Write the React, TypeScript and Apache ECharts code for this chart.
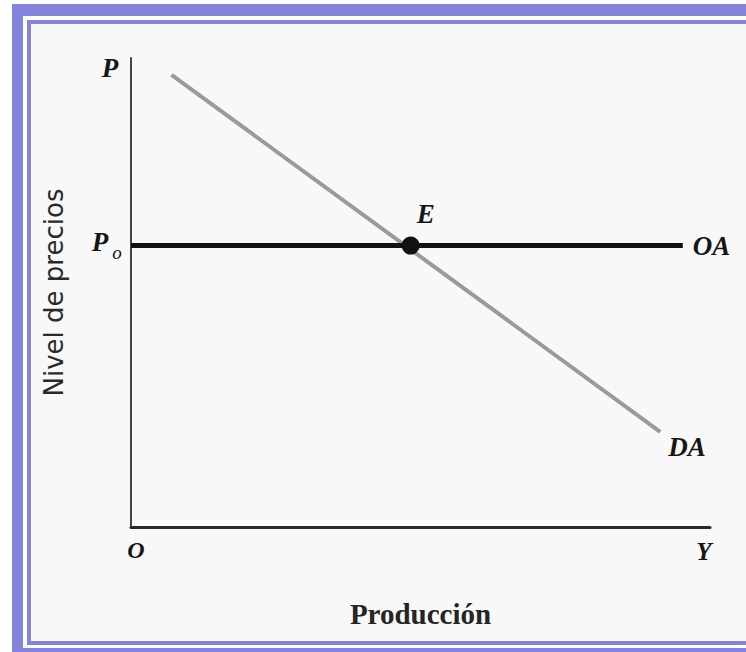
import React, { useEffect, useRef } from "react";
import * as echarts from "echarts";

// Axis ranges (abstract units)
const X_RANGE = [0, 100];
const Y_RANGE = [0, 100];

// Oferta agregada (horizontal at P0)
const OA_X = [0, 95.3];
const OA_Y = [60, 60];

// Demanda agregada (downward sloping)
const DA_X = [7, 91.4];
const DA_Y = [96.4, 20.3];

// Equilibrium point
const E_X = [48.3];
const E_Y = [60];

// Labels
const X_NAME = "Producción";
const Y_NAME = "Nivel de precios";
const OA_LABEL = "OA";
const DA_LABEL = "DA";
const E_LABEL = "E";

const PURPLE = "#8484DC";
const INK = "#161616";
const serifBI = {
  fontFamily: "Liberation Serif",
  fontWeight: "bold",
  fontStyle: "italic",
  fontSize: 27,
  color: INK,
};

export default function App() {
  const ref = useRef<HTMLDivElement>(null);
  useEffect(() => {
    if (!ref.current) return;
    const chart = echarts.init(ref.current, null, { renderer: "svg" });
    const zip = (xs: number[], ys: number[]) => xs.map((x, i) => [x, ys[i]]);
    const oa = zip(OA_X, OA_Y);
    const da = zip(DA_X, DA_Y);
    const e = zip(E_X, E_Y);
    const txt = (text: string, x: number, y: number, size = 27, extra: any = {}) => ({
      type: "text",
      x,
      y,
      z: 10,
      style: {
        text,
        fontFamily: "Liberation Serif",
        fontWeight: "bold",
        fontStyle: "italic",
        fontSize: size,
        fill: INK,
        textAlign: "center",
        textVerticalAlign: "middle",
        ...extra,
      },
    });
    chart.setOption({
      animation: false,
      backgroundColor: "#ffffff",
      grid: { left: 131, right: 36, top: 58, bottom: 125 },
      xAxis: {
        type: "value",
        min: X_RANGE[0],
        max: X_RANGE[1],
        splitLine: { show: false },
        axisTick: { show: false },
        axisLabel: { show: false },
        axisLine: { show: true, lineStyle: { color: "#2a2a2a", width: 3 } },
        name: X_NAME,
        nameLocation: "middle",
        nameGap: 72,
        nameTextStyle: {
          fontFamily: "Liberation Serif",
          fontWeight: "bold",
          fontSize: 29,
          color: "#252525",
        },
      },
      yAxis: {
        type: "value",
        min: Y_RANGE[0],
        max: Y_RANGE[1],
        splitLine: { show: false },
        axisTick: { show: false },
        axisLabel: { show: false },
        axisLine: { show: true, lineStyle: { color: "#444", width: 2 } },
        name: Y_NAME,
        nameLocation: "middle",
        nameRotate: 90,
        nameGap: 64,
        nameTextStyle: {
          fontFamily: "DejaVu Sans",
          fontSize: 26,
          color: "#2a2a2a",
        },
      },
      graphic: [
        { type: "rect", z: -10, silent: true, shape: { x: 31, y: 24, width: 715, height: 617 }, style: { fill: "#f8f8f8" } },
        { type: "rect", z: -5, silent: true, shape: { x: 12, y: 4, width: 734, height: 12 }, style: { fill: PURPLE } },
        { type: "rect", z: -5, silent: true, shape: { x: 12, y: 4, width: 11, height: 648 }, style: { fill: PURPLE } },
        { type: "rect", z: -5, silent: true, shape: { x: 12, y: 648, width: 734, height: 4 }, style: { fill: PURPLE } },
        { type: "rect", z: -5, silent: true, shape: { x: 27, y: 20, width: 719, height: 4 }, style: { fill: PURPLE } },
        { type: "rect", z: -5, silent: true, shape: { x: 27, y: 20, width: 4, height: 625 }, style: { fill: PURPLE } },
        { type: "rect", z: -5, silent: true, shape: { x: 27, y: 641, width: 719, height: 4 }, style: { fill: PURPLE } },
        txt("P", 110, 68),
        txt("P", 100, 242),
        txt("o", 117, 252, 19, { fontWeight: "normal" }),
        txt("O", 136, 550, 24),
        txt("Y", 704, 551, 25),
      ],
      series: [
        {
          type: "line",
          data: da,
          symbol: "none",
          lineStyle: { color: "#9a9a9a", width: 4 },
          z: 2,
        },
        {
          type: "line",
          data: oa,
          symbol: "none",
          lineStyle: { color: "#111", width: 5 },
          z: 3,
        },
        {
          type: "scatter",
          data: e,
          symbol: "circle",
          symbolSize: 18,
          itemStyle: { color: "#111", opacity: 1 },
          z: 4,
          label: { show: true, formatter: E_LABEL, position: "top", offset: [15, -4], opacity: 1, ...serifBI },
        },
        {
          type: "scatter",
          data: [oa[oa.length - 1]],
          symbolSize: 0,
          itemStyle: { opacity: 1 },
          z: 4,
          label: { show: true, formatter: OA_LABEL, position: "right", distance: 10, opacity: 1, ...serifBI },
        },
        {
          type: "scatter",
          data: [da[da.length - 1]],
          symbolSize: 0,
          itemStyle: { opacity: 1 },
          z: 4,
          label: { show: true, formatter: DA_LABEL, position: [8, 2], align: "left", verticalAlign: "top", opacity: 1, ...serifBI },
        },
      ],
    });
    return () => chart.dispose();
  }, []);
  return (
    <div
      ref={ref}
      style={{ position: "fixed", left: 0, top: 0, width: 746, height: 652 }}
    />
  );
}
